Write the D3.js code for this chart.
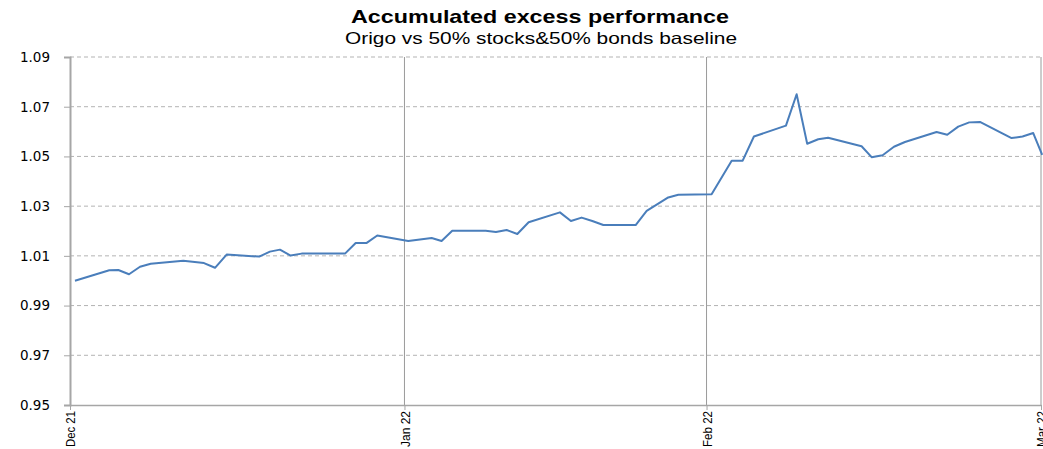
<!DOCTYPE html>
<html>
<head>
<meta charset="utf-8">
<script src="https://cdn.jsdelivr.net/npm/d3@7"></script>
<style>
  html, body { margin: 0; padding: 0; background: #fff; }
  svg { display: block; }
</style>
</head>
<body>
<svg id="chart" width="1043" height="449"></svg>
<script>
// ---- Data (days since the start of the axis, accumulated excess value) ----
const days = [0.46, 3.64, 4.48, 5.47, 6.49, 7.48, 10.5, 12.42, 13.44, 14.52, 17.54, 18.53, 19.46, 20.45, 21.47,
  25.49, 26.48, 27.5, 28.48, 31.35, 33.52, 34.44, 35.43, 38.53, 39.48, 40.47, 41.46, 42.51, 45.41, 46.43,
  47.42, 48.41, 49.43, 52.43, 53.45, 55.45, 56.38, 59.47, 61.33, 62.35, 63.39, 66.36, 67.35, 68.33, 69.35,
  70.27, 73.37, 74.3, 75.32, 76.37, 77.39, 80.32, 81.31, 82.33, 83.35, 84.34, 87.27, 88.29, 89.28, 90.11];
const values = [1.0000, 1.0042, 1.0043, 1.0026, 1.0056, 1.0068, 1.0080, 1.0071, 1.0052, 1.0105, 1.0097, 1.0117, 1.0125, 1.0101, 1.0109,
  1.0109, 1.0152, 1.0152, 1.0182, 1.0160, 1.0172, 1.0160, 1.0201, 1.0201, 1.0196, 1.0204, 1.0188, 1.0235, 1.0275, 1.0240,
  1.0254, 1.0240, 1.0224, 1.0224, 1.0281, 1.0335, 1.0346, 1.0348, 1.0483, 1.0483, 1.0580, 1.0624, 1.0750, 1.0551, 1.0569,
  1.0575, 1.0541, 1.0497, 1.0505, 1.0539, 1.0558, 1.0598, 1.0587, 1.0620, 1.0637, 1.0639, 1.0574, 1.0580, 1.0594, 1.0506];
const xTickDays = [0, 31, 59, 90];
const xTickLabels = ["Dec 21", "Jan 22", "Feb 22", "Mar 22"];
const yTicks = [0.95, 0.97, 0.99, 1.01, 1.03, 1.05, 1.07, 1.09];
const titleText = "Accumulated excess performance";
const subtitleText = "Origo vs 50% stocks&50% bonds baseline";

// ---- Layout ----
const svg = d3.select("#chart");
const mLeft = 70, mRight = 1041, mTop = 57, mBottom = 405;
const x = d3.scaleLinear().domain([0, 90]).range([mLeft, mRight]);
const y = d3.scaleLinear().domain([0.95, 1.09]).range([mBottom, mTop]);
const sansFont = "'Liberation Sans', Arial, sans-serif";

// Title
svg.append("text").attr("x", 540).attr("y", 23).attr("text-anchor", "middle")
  .style("font-family", sansFont)
  .style("font-weight", "bold").style("font-size", "19px").attr("fill", "#000")
  .attr("textLength", 378).attr("lengthAdjust", "spacingAndGlyphs")
  .text(titleText);
svg.append("text").attr("x", 541).attr("y", 44).attr("text-anchor", "middle")
  .style("font-family", sansFont)
  .style("font-size", "16.5px").attr("fill", "#000")
  .attr("textLength", 392).attr("lengthAdjust", "spacingAndGlyphs")
  .text(subtitleText);

// Horizontal dashed gridlines
svg.append("g").selectAll("line").data(yTicks.filter(v => v > 0.95)).join("line")
  .attr("x1", mLeft).attr("x2", 1043)
  .attr("y1", d => y(d)).attr("y2", d => y(d))
  .attr("stroke", "#b3b3b3").attr("stroke-width", 1)
  .attr("stroke-dasharray", "4,3");

// Vertical solid gridlines at month ticks
svg.append("g").selectAll("line").data(xTickDays.slice(1)).join("line")
  .attr("x1", d => x(d)).attr("x2", d => x(d))
  .attr("y1", mTop).attr("y2", mBottom)
  .attr("stroke", "#9a9a9a").attr("stroke-width", 1);

// Y axis
const yAxis = svg.append("g").attr("transform", `translate(${mLeft},0)`)
  .call(d3.axisLeft(y).tickValues(yTicks).tickFormat(d3.format(".2f")).tickSize(6).tickPadding(14));
yAxis.select(".domain").attr("stroke", "#a6a6a6").attr("stroke-width", 2);
yAxis.selectAll(".tick line").attr("stroke", "#a6a6a6");
yAxis.selectAll("text").style("font-family", "'DejaVu Sans', Verdana, sans-serif")
  .style("font-size", "13.5px").attr("fill", "#000");

// X axis
const xAxis = svg.append("g").attr("transform", `translate(0,${mBottom})`)
  .call(d3.axisBottom(x).tickValues(xTickDays).tickFormat((d, i) => xTickLabels[i]).tickSize(5).tickSizeOuter(0));
xAxis.select(".domain").attr("stroke", "#a6a6a6").attr("stroke-width", 1.5);
xAxis.selectAll(".tick line").attr("stroke", "#a6a6a6");
xAxis.selectAll("text")
  .style("font-family", sansFont)
  .style("font-size", "13px").attr("fill", "#000")
  .attr("text-anchor", "end")
  .attr("transform", "rotate(-90)")
  .attr("x", -6).attr("y", 0).attr("dy", "0.35em")
  .attr("textLength", 36).attr("lengthAdjust", "spacingAndGlyphs");

// Line
const pts = days.map((d, i) => [d, values[i]]);
svg.append("path").datum(pts)
  .attr("fill", "none").attr("stroke", "#4a7ebb").attr("stroke-width", 2)
  .attr("stroke-linejoin", "round")
  .attr("d", d3.line().x(d => x(d[0])).y(d => y(d[1])));
</script>
</body>
</html>
